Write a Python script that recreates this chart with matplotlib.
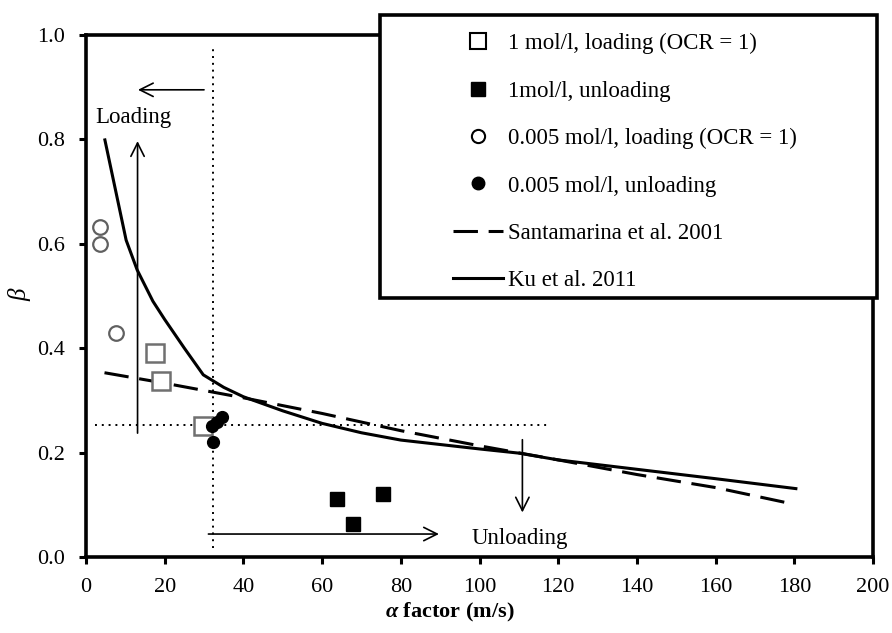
import matplotlib
matplotlib.use("Agg")
import matplotlib.pyplot as plt
from matplotlib.patches import Rectangle
from matplotlib.lines import Line2D

plt.rcParams['font.family'] = ['Liberation Serif', 'DejaVu Serif']
plt.rcParams['mathtext.fontset'] = 'custom'
plt.rcParams['mathtext.it'] = 'Liberation Serif:bold:italic'
plt.rcParams['mathtext.rm'] = 'Liberation Serif:bold'

# measured points
sq_open_x = [17.6, 19.0, 29.8]
sq_open_y = [0.390, 0.338, 0.251]
sq_fill_x = [63.7, 67.9, 75.4]
sq_fill_y = [0.112, 0.064, 0.121]
ci_open_x = [3.6, 3.6, 7.6]
ci_open_y = [0.632, 0.600, 0.429]
ci_fill_x = [32.1, 33.2, 34.5, 32.2]
ci_fill_y = [0.251, 0.258, 0.268, 0.221]

# model curves
santa_x = [4.7, 20, 40, 60, 80, 100, 120, 140, 160, 178.7]
santa_y = [0.353, 0.333, 0.305, 0.275, 0.242, 0.213, 0.186, 0.158, 0.133, 0.103]
ku_x = [4.8, 10.2, 13, 17, 20, 25, 29.8, 35, 40, 50, 60, 70, 80, 100, 110, 120, 140, 160, 180.4]
ku_y = [0.799, 0.607, 0.55, 0.49, 0.455, 0.40, 0.349, 0.325, 0.307, 0.28, 0.256, 0.238, 0.224, 0.207, 0.199, 0.186, 0.168, 0.150, 0.131]

labels = ["1 mol/l, loading (OCR = 1)", "1mol/l, unloading",
          "0.005 mol/l, loading (OCR = 1)", "0.005 mol/l, unloading",
          "Santamarina et al. 2001", "Ku et al. 2011"]

fig = plt.figure(figsize=(8.92, 6.33), dpi=100)
ax = fig.add_axes([86/892, 1-557/633, 787/892, 522/633])

# reference lines
ax.plot([32.4, 32.4], [0.017, 0.977], color='black', lw=1.4, ls=(0, (1, 2.5)))
ax.plot([2.3, 118], [0.253, 0.253], color='black', lw=1.4, ls=(0, (1, 2.5)))

ax.plot(santa_x, santa_y, color='black', lw=2.2, ls=(0, (8, 3.5)))
ax.plot(ku_x, ku_y, color='black', lw=2.2)

ax.plot(sq_open_x, sq_open_y, 's', ms=12.5, mfc='white', mec='#707070', mew=1.8, ls='none')
ax.plot(sq_fill_x, sq_fill_y, 's', ms=9.5, mfc='black', mec='black', ls='none')
ax.plot(ci_open_x, ci_open_y, 'o', ms=10.5, mfc='white', mec='#606060', mew=1.6, ls='none')
ax.plot(ci_fill_x, ci_fill_y, 'o', ms=8.5, mfc='black', mec='black', ls='none')

arr = dict(arrowstyle='->', color='black', lw=1.2, mutation_scale=24)
ax.annotate('', xy=(12.5, 0.895), xytext=(30.7, 0.895), arrowprops=arr)
ax.annotate('', xy=(13.1, 0.802), xytext=(13.1, 0.232), arrowprops=arr)
ax.annotate('', xy=(90.4, 0.044), xytext=(30.4, 0.044), arrowprops=arr)
ax.annotate('', xy=(110.9, 0.080), xytext=(110.9, 0.230), arrowprops=arr)
ax.text(2.3, 0.841, 'Loading', fontsize=16.5, va='center', ha='left')
ax.text(98, 0.036, 'Unloading', fontsize=16.5, va='center', ha='left')

ax.set_xlim(0, 200)
ax.set_ylim(0, 1.0)
ax.set_xticks(range(0, 201, 20))
ax.set_yticks([0.0, 0.2, 0.4, 0.6, 0.8, 1.0])
ax.set_yticklabels(['0.0', '0.2', '0.4', '0.6', '0.8', '1.0'])
ax.tick_params(direction='out', length=5, width=2.2, labelsize=16, pad=10)
for s in ax.spines.values():
    s.set_linewidth(2.6)

fig.text(450/892, 1-612/633, r'$\alpha$ factor (m/s)', fontsize=16, fontweight='bold',
         ha='center', va='center')
fig.text(20/892, 1-295/633, 'β', fontsize=18, fontstyle='italic', rotation=90,
         ha='center', va='center')

# legend box
box = Rectangle((380/892, 1-298/633), 497/892, 283/633, transform=fig.transFigure,
                facecolor='white', edgecolor='black', lw=2.6, zorder=4, clip_on=False)
ax.add_artist(box)
handles = [
    Line2D([], [], marker='s', ms=11, mfc='white', mec='black', mew=1.5, ls='none'),
    Line2D([], [], marker='s', ms=9.5, mfc='black', mec='black', ls='none'),
    Line2D([], [], marker='o', ms=9.5, mfc='white', mec='black', mew=1.5, ls='none'),
    Line2D([], [], marker='o', ms=9, mfc='black', mec='black', ls='none'),
    Line2D([], [], color='black', lw=2.2, ls=(0, (8, 3.5))),
    Line2D([], [], color='black', lw=2.2),
]
leg = ax.legend(handles, labels, loc='upper left', bbox_to_anchor=(453/892, 1-33/633),
                bbox_transform=fig.transFigure, frameon=False, fontsize=16.5,
                borderpad=0, borderaxespad=0, handlelength=2.18, handletextpad=0.22,
                labelspacing=1.15)
leg.set_zorder(6)

fig.savefig('out.png', dpi=100)
